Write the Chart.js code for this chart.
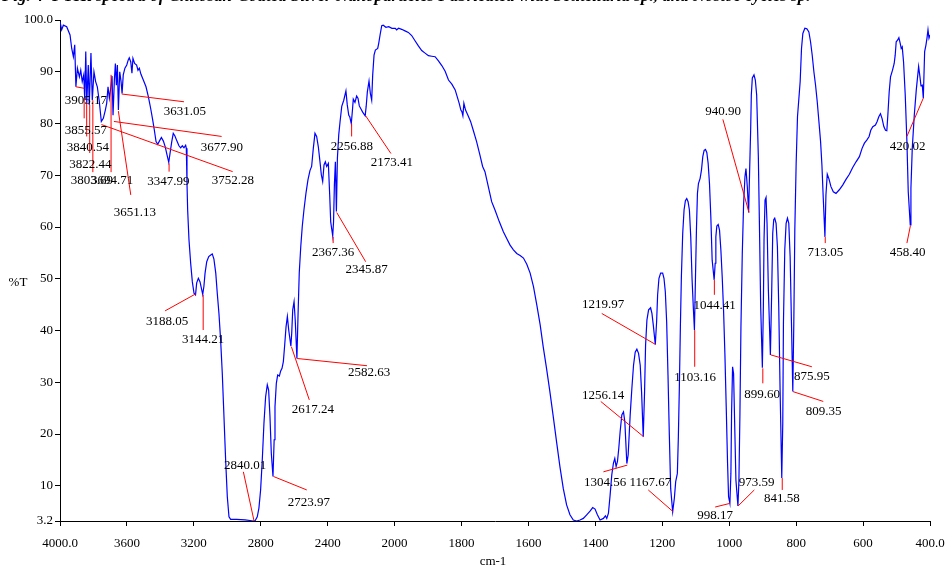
<!DOCTYPE html>
<html>
<head>
<meta charset="utf-8">
<script src="https://cdn.jsdelivr.net/npm/chart.js@4/dist/chart.umd.min.js"></script>
<style>
  body { margin: 0; background: #fff; overflow: hidden; }
  #wrap { width: 946px; height: 570px; }
</style>
</head>
<body>
<div id="wrap"><canvas id="irChart"></canvas></div>
<script>
// spectrum: wavenumber (cm-1) and %T
const wavenumber = [4000,3990,3980,3960,3940,3930,3920,3912,3905,3896,3884,3876,3867,3858,3852,3846,3840,3831,3825,3815,
  3807,3797,3787,3777,3765,3753,3741,3729,3721,3713,3705,3697,3689,3683,3675,3669,3663,3657,3651,3643,
  3635,3629,3622,3612,3601,3592,3586,3577,3570,3564,3554,3542,3534,3526,3516,3502,3486,3472,3458,3446,
  3436,3426,3416,3406,3394,3382,3371,3360,3350,3343,3332,3323,3313,3301,3289,3279,3269,3259,3249,3245,
  3241,3237,3229,3219,3209,3199,3190,3183,3173,3163,3147,3140,3133,3123,3111,3099,3090,3080,3069,3060,
  3050,3040,3030,3020,3010,3000,2990,2980,2944,2894,2864,2845,2833,2821,2811,2801,2791,2781,2771,2761,
  2753,2745,2737,2727,2720,2715,2707,2699,2689,2681,2673,2665,2657,2649,2641,2633,2620,2615,2609,2601,
  2594,2584,2577,2570,2561,2552,2542,2530,2518,2506,2496,2486,2476,2466,2456,2446,2438,2430,2422,2414,
  2406,2396,2388,2382,2370,2365,2360,2354,2348,2342,2334,2326,2316,2304,2291,2283,2274,2268,2259,2252,
  2247,2237,2227,2219,2211,2201,2191,2176,2170,2163,2153,2145,2137,2131,2123,2115,2101,2095,2087,2077,
  2068,2052,2035,2016,1998,1994,1988,1979,1969,1959,1949,1939,1929,1919,1909,1899,1889,1879,1869,1859,
  1849,1839,1829,1819,1813,1807,1802,1799,1796,1793,1788,1781,1773,1765,1755,1745,1737,1730,1720,1710,
  1700,1687,1675,1665,1655,1645,1635,1625,1615,1605,1595,1585,1575,1565,1556,1546,1536,1526,1516,1506,
  1496,1486,1476,1466,1456,1446,1436,1426,1416,1408,1401,1394,1386,1376,1370,1366,1361,1356,1351,1346,
  1342,1338,1334,1330,1326,1321,1316,1312,1306,1302,1299,1296,1291,1286,1281,1276,1271,1266,1262,1257,
  1253,1250,1246,1241,1235,1231,1227,1221,1217,1214,1210,1205,1199,1195,1191,1187,1183,1179,1175,1169,
  1164,1160,1155,1152,1149,1146,1143,1139,1135,1131,1127,1123,1119,1115,1111,1107,1104,1101,1098,1095,
  1092,1087,1083,1079,1075,1071,1067,1063,1059,1055,1051,1045,1042,1040,1037,1033,1029,1025,1021,1017,
  1013,1009,1005,1002,998,995,993,990,987,984,980,974,971,968,965,961,957,953,950,946,
  942,939,936,934,931,926,922,918,913,909,906,901,898,896,893,890,887,883,877,873,
  870,867,864,860,856,852,848,843,840,838,834,830,826,822,818,814,810,807,804,800,
  796,788,784,780,774,768,762,757,752,747,742,737,732,727,723,719,714,711,707,702,
  696,689,681,671,661,651,641,631,621,611,603,596,589,582,577,571,563,558,553,548,
  543,538,533,529,526,522,518,512,507,504,501,497,493,489,486,483,479,474,469,465,
  459,457,453,447,441,434,430,427,423,420,416,412,409,406,403,400];
const transmittance = [99.7,98.1,99.0,98.7,97.1,94.5,92.9,95.2,87.1,90.7,89.0,90.3,88.1,89.4,84.5,93.9,83.9,91.3,83.6,93.6,
  84.5,90.0,88.1,87.1,84.2,80.4,81.0,82.6,83.9,87.1,84.9,86.8,89.2,81.6,88.4,91.6,87.4,91.3,82.6,90.0,
  88.1,85.8,89.4,90.7,91.3,92.3,92.7,91.9,89.7,92.6,91.6,91.3,90.3,90.7,89.5,88.4,87.1,85.2,82.9,80.7,
  78.7,76.5,76.0,76.6,77.3,76.6,75.5,73.9,72.5,74.1,76.5,78.1,77.6,76.6,75.7,75.3,75.7,75.3,75.8,75.2,
  68.5,63.3,57.5,53.0,49.4,47.2,46.9,49.2,50.1,49.4,47.0,48.5,51.1,53.3,54.3,54.6,54.8,53.8,51.1,47.2,
  43.3,38.2,31.7,23.4,15.0,7.9,4.0,3.5,3.5,3.4,3.3,3.2,3.3,4.0,5.7,9.2,15.0,22.1,27.2,29.5,
  28.5,23.4,16.3,11.8,18.9,25.3,29.8,31.4,31.2,32.2,32.7,34.0,37.2,40.7,42.7,40.1,37.0,39.5,44.0,45.6,
  42.0,34.6,43.3,51.1,56.2,60.1,63.3,66.5,69.1,70.9,71.7,75.2,78.1,77.5,75.5,72.6,70.1,68.8,72.0,72.6,
  71.7,72.3,66.2,61.0,58.3,61.0,68.1,72.6,63.0,73.3,77.8,80.4,83.3,84.5,86.3,83.6,81.6,81.3,80.0,82.6,
  84.7,84.1,85.3,84.9,83.4,82.8,82.2,81.5,83.3,86.1,88.2,85.8,84.5,89.4,93.2,94.2,94.5,95.5,97.1,98.9,
  99.0,98.6,98.7,98.4,98.4,98.1,98.4,98.2,97.9,97.6,97.0,96.0,95.0,94.1,93.6,93.1,93.0,92.9,92.1,91.2,
  90.1,88.4,87.6,86.5,85.2,83.9,82.6,82.3,81.5,83.9,82.6,81.6,80.4,78.7,76.5,73.9,71.7,70.7,67.8,64.9,
  63.3,61.0,59.1,57.8,56.5,55.6,54.9,54.5,54.0,52.8,51.1,48.5,44.9,41.1,36.9,32.7,28.2,23.4,18.5,13.7,
  9.5,6.3,4.4,3.4,3.2,3.4,3.7,4.4,5.1,5.8,5.5,4.4,3.4,3.7,4.2,3.7,4.7,8.2,12.1,14.4,
  15.3,13.7,14.7,17.3,20.5,23.7,24.3,22.4,14.3,16.0,19.8,23.7,28.8,33.3,35.8,36.4,35.6,33.3,28.2,19.5,
  28.2,37.2,42.0,44.0,44.4,43.3,41.1,37.3,41.7,46.9,50.1,51.1,51.1,50.1,47.5,41.7,31.4,19.8,9.5,5.0,
  7.6,10.8,12.4,19.5,29.2,40.7,50.4,58.8,63.3,65.1,65.5,64.9,63.3,58.1,49.8,44.0,40.1,49.8,59.4,66.5,
  68.4,69.4,71.0,73.6,74.8,75.0,74.4,72.3,68.4,62.0,53.6,49.8,53.0,58.1,60.2,60.5,59.4,55.6,50.4,44.0,
  35.6,25.3,14.4,7.9,6.6,12.4,24.0,33.0,31.7,22.7,11.1,6.1,11.1,24.0,40.7,54.9,64.6,69.7,71.3,67.8,
  62.8,71.0,78.7,85.5,88.8,89.4,88.4,85.5,73.6,57.5,44.6,32.8,44.6,57.5,65.2,65.7,60.7,47.8,35.3,47.8,
  58.8,61.4,61.7,60.7,56.2,44.6,28.5,11.5,22.1,41.4,55.6,60.7,61.7,60.7,54.3,41.4,28.2,41.4,59.4,72.3,
  81.3,88.1,94.5,97.4,98.4,98.3,97.7,95.8,93.2,90.0,87.4,84.2,80.4,76.5,72.0,65.6,58.1,66.2,70.2,69.3,
  67.8,66.8,66.5,67.2,68.1,69.2,70.2,71.5,72.6,73.6,75.2,76.2,76.8,77.5,78.7,79.4,79.7,80.4,81.3,81.9,
  80.9,79.4,78.7,78.6,81.6,86.1,89.0,90.3,91.6,93.2,95.8,96.1,96.6,95.5,94.5,94.8,91.9,85.5,76.5,66.8,
  60.4,67.5,75.2,81.6,86.5,91.0,89.0,87.3,87.4,84.9,93.9,95.2,96.5,98.1,96.5,97.1];

const xTicks = [4000, 3600, 3200, 2800, 2400, 2000, 1800, 1600, 1400, 1200, 1000, 800, 600, 400];
const yTicks = [3.2, 10, 20, 30, 40, 50, 60, 70, 80, 90, 100];

// peak labels and the %T where each red leader leaves the curve
const peakLabels = ['3905.17','3855.57','3840.54','3822.44','3803.69','3694.71','3651.13','3631.05','3677.90','3752.28',
  '3347.99','3188.05','3144.21','2840.01','2723.97','2617.24','2582.63','2367.36','2345.87','2256.88',
  '2173.41','1219.97','1256.14','1304.56','1167.67','1103.16','1044.41','998.17','973.59','940.90',
  '899.60','875.95','809.35','841.58','713.05','458.40','420.02'];
const peakT = [87.1,84.9,84.0,83.6,84.5,89.4,82.4,85.7,80.4,79.8,
  72.3,47.1,46.9,3.2,11.8,36.9,34.6,58.1,62.8,80.0,
  81.5,37.3,19.5,14.0,5.0,40.1,49.8,6.6,6.1,62.8,
  32.7,35.3,28.2,11.5,58.1,60.3,84.9];

// where each leader ends and where its label sits, in chart units [cm-1, %T]
const leaderEnd = [[3855,86.8],[3855.57,81.0],[3840.54,77.5],[3822.44,74.3],[3803.69,70.6],[3694.71,70.6],[3577,66.2],[3259,84.2],[3034,77.5],[2968,70.7],
  [3347.99,70.7],[3372,43.8],[3144.21,40.1],[2904,12.7],[2525,9.2],[2510,26.6],[2165,33.2],[2367.36,56.9],[2173,53.3],[2256.88,77.5],
  [2022,74.2],[1381,43.3],[1384,26.3],[1376,12.7],[1242,9.2],[1103.16,33.0],[1044.41,46.9],[1042,5.9],[925,9.2],[1019,80.8],
  [899.6,29.8],[753,33.0],[719,26.3],[841.58,9.2],[713.05,56.9],[469,56.9],[469,77.5]];
const labelAt = [[3845,84.5],[3845,78.7],[3833,75.3],[3818,72.0],[3809,68.9],[3689,68.9],[3552,62.7],[3253,82.4],[3032,75.3],[2966,68.9],
  [3352,68.8],[3360,41.7],[3145,38.2],[2894,14.0],[2512,6.7],[2488,24.7],[2153,31.8],[2367,55.0],[2167,51.7],[2256,75.5],
  [2016,72.4],[1377,45.1],[1377,27.5],[1371,10.7],[1236,10.7],[1102,31.0],[1044,44.9],[1042,4.2],[918,10.7],[1018,82.4],
  [902,27.7],[753,31.2],[718,24.3],[843,7.5],[713,55.0],[467,55.0],[467,75.5]];

const serif = "'Liberation Serif', 'Times New Roman', serif";

// instrument axis: 400 cm-1 per division above 2000, 200 cm-1 per division below
function waveToFrac(v) {
  const u = v >= 2000 ? (4000 - v) / 400 : 5 + (2000 - v) / 200;
  return u / 13;
}
function fracToWave(f) {
  const u = f * 13;
  return u <= 5 ? 4000 - u * 400 : 2000 - (u - 5) * 200;
}
class WaveScale extends Chart.LinearScale {
  getPixelForValue(value) {
    if (value === null || value === undefined || isNaN(value)) return NaN;
    return this.getPixelForDecimal(waveToFrac(value));
  }
  getValueForPixel(pixel) {
    return fracToWave(this.getDecimalForPixel(pixel));
  }
}
WaveScale.id = 'wave';
WaveScale.defaults = Chart.LinearScale.defaults;
Chart.register(WaveScale);

const peakPlugin = {
  id: 'peaks',
  afterDatasetsDraw(chart) {
    const ctx = chart.ctx, xs = chart.scales.x, ys = chart.scales.y;
    ctx.save();
    ctx.strokeStyle = '#ff0000';
    ctx.lineWidth = 1;
    for (let i = 0; i < peakLabels.length; i++) {
      const w = parseFloat(peakLabels[i]);
      ctx.beginPath();
      ctx.moveTo(xs.getPixelForValue(w), ys.getPixelForValue(peakT[i]));
      ctx.lineTo(xs.getPixelForValue(leaderEnd[i][0]), ys.getPixelForValue(leaderEnd[i][1]));
      ctx.stroke();
    }
    ctx.fillStyle = '#000';
    ctx.font = '13px ' + serif;
    ctx.textAlign = 'center';
    ctx.textBaseline = 'middle';
    for (let i = 0; i < peakLabels.length; i++) {
      ctx.fillText(peakLabels[i], xs.getPixelForValue(labelAt[i][0]), ys.getPixelForValue(labelAt[i][1]));
    }
    ctx.restore();
  },
  afterDraw(chart) {
    const ctx = chart.ctx;
    ctx.save();
    ctx.fillStyle = '#000';
    ctx.font = '13px ' + serif;
    ctx.textAlign = 'center';
    ctx.textBaseline = 'middle';
    ctx.fillText('%T', 18, 283);
    ctx.fillText('cm-1', 493, 562);
    // caption of the source figure, cut off at the top edge
    ctx.font = 'bold italic 17px ' + serif;
    ctx.textAlign = 'left';
    ctx.textBaseline = 'alphabetic';
    ctx.fillText('Fig. 4  FTIR spectra of Chitosan-Coated Silver Nanoparticles Fabricated with Scutellaria sp., and Nostoc cycles sp.', 2, 1);
    ctx.restore();
  }
};

new Chart(document.getElementById('irChart'), {
  type: 'line',
  data: {
    datasets: [{
      label: '%T',
      data: wavenumber.map((w, i) => ({ x: w, y: transmittance[i] })),
      borderColor: '#0000ff',
      borderWidth: 1.2,
      pointRadius: 0,
      tension: 0,
      fill: false
    }]
  },
  options: {
    responsive: true,
    maintainAspectRatio: false,
    animation: false,
    layout: { autoPadding: false, padding: { left: 0, top: 20, right: 16, bottom: 0 } },
    scales: {
      x: {
        type: 'wave',
        min: 400,
        max: 4000,
        afterFit: s => { s.height = 49; s.paddingLeft = 0; s.paddingRight = 0; },
        afterBuildTicks: s => { s.ticks = xTicks.map(v => ({ value: v })); },
        grid: { drawOnChartArea: false, drawTicks: true, tickLength: 5, color: '#000' },
        border: { display: true, color: '#000', width: 1 },
        ticks: {
          autoSkip: false, maxRotation: 0, padding: 10, color: '#000',
          font: { family: serif, size: 13 },
          callback: v => (v === 4000 || v === 400) ? v.toFixed(1) : String(v)
        }
      },
      y: {
        min: 3.2,
        max: 100,
        afterFit: s => { s.width = 60; s.paddingTop = 0; s.paddingBottom = 0; },
        afterBuildTicks: s => { s.ticks = yTicks.map(v => ({ value: v })); },
        grid: { drawOnChartArea: false, drawTicks: true, tickLength: 5, color: '#000' },
        border: { display: true, color: '#000', width: 1 },
        ticks: {
          padding: 2, color: '#000',
          font: { family: serif, size: 13 },
          callback: v => v === 100 ? '100.0' : String(v)
        }
      }
    },
    plugins: {
      legend: { display: false },
      tooltip: { enabled: false }
    }
  },
  plugins: [peakPlugin]
});
</script>
</body>
</html>
